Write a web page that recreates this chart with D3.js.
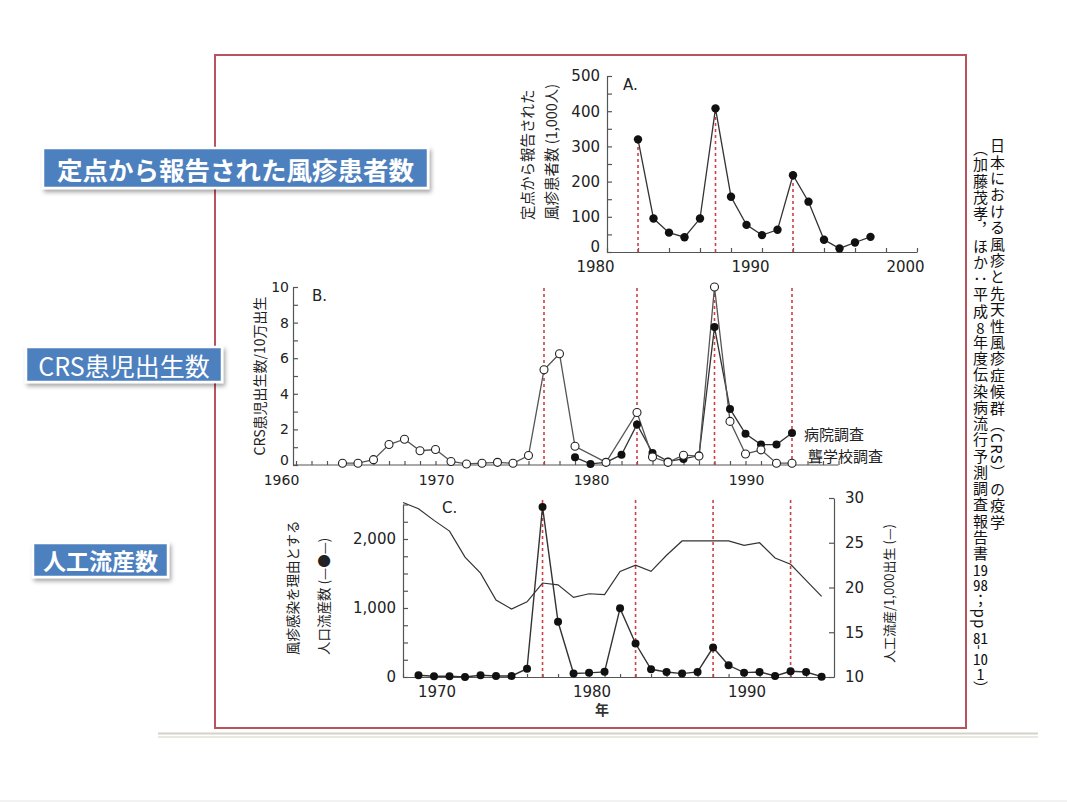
<!DOCTYPE html>
<html><head><meta charset="utf-8">
<script src="https://cdn.jsdelivr.net/npm/d3@7"></script>
<style>
body{margin:0;background:#fff;position:relative;width:1067px;height:803px;overflow:hidden}
svg{display:block;position:absolute;left:0;top:0}
.vcol{position:absolute;writing-mode:vertical-rl;text-orientation:mixed;white-space:nowrap;
  font-family:"Noto Sans CJK JP","Noto Sans",sans-serif;font-size:15px;line-height:18px;color:#111}
.tcu{text-combine-upright:all}
</style>
</head><body>
<svg id="c" width="1067" height="803"></svg>
<script>
// ---------- data ----------
// Panel A: sentinel-reported rubella cases (1,000 persons)
const yearsA = [1982,1983,1984,1985,1986,1987,1988,1989,1990,1991,1992,1993,1994,1995,1996,1997];
const casesA = [320,95,55,42,95,408,157,77,48,63,218,143,35,10,27,43];
// epidemic years (red dotted lines)
const epidemicYears = [1976,1982,1987,1992];
// Panel B: CRS births per 100,000 births
const yearsSchool = [1963,1964,1965,1966,1967,1968,1969,1970,1971,1972,1973,1974,1975,1976,1977,1978,1980,1982,1983,1984,1985,1986,1987,1988,1989,1990,1991,1992];
const crsSchool   = [0.1,0.1,0.3,1.15,1.45,0.8,0.87,0.2,0.06,0.1,0.15,0.1,0.53,5.35,6.25,1.05,0.15,2.95,0.45,0.15,0.55,0.5,10,2.45,0.62,0.85,0.1,0.1];
const yearsHosp = [1978,1979,1980,1981,1982,1983,1984,1985,1986,1987,1988,1989,1990,1991,1992];
const crsHosp   = [0.43,0.06,0.15,0.58,2.28,0.68,0.2,0.34,0.53,7.75,3.15,1.75,1.15,1.15,1.8];
const seriesLabelsB = ["病院調査","聾学校調査"];
// Panel C: induced abortions due to rubella infection (count) and abortion rate per 1,000 births
const yearsAbort = [1968,1969,1970,1971,1972,1973,1974,1975,1976,1977,1978,1979,1980,1981,1982,1983,1984,1985,1986,1987,1988,1989,1990,1991,1992,1993,1994];
const abortions  = [25,10,10,0,25,15,15,120,2465,800,50,60,75,995,485,112,73,49,73,427,170,63,73,15,83,73,5];
const yearsRate = [1967,1968,1969,1970,1971,1972,1973,1974,1975,1976,1977,1978,1979,1980,1981,1982,1983,1984,1985,1986,1987,1988,1989,1990,1991,1992,1993,1994];
const abortionRate = [29.5,28.8,27.5,26.3,23.4,21.6,18.6,17.6,18.4,20.5,20.3,18.9,19.3,19.2,21.8,22.5,21.8,23.6,25.2,25.2,25.2,25.2,24.7,25.0,23.3,22.6,20.8,19.0];
// tick labels
const ticksA_y = [0,100,200,300,400,500];
const ticksA_x = [1980,1990,2000];
const ticksB_y = [0,2,4,6,8,10];
const ticksB_x = [1960,1970,1980,1990];
const ticksC_yL = [0,1000,2000];
const ticksC_yR = [10,15,20,25,30];
const ticksC_x = [1970,1980,1990];
// side labels
const boxLabels = ["定点から報告された風疹患者数","CRS患児出生数","人工流産数"];
const sourceTitle = "日本における風疹と先天性風疹症候群（CRS）の疫学";
const sourceRef = ["（加藤茂孝，ほか：平成", "8", "年度伝染病流行予測調査報告書", "19", "98", "；pp", "81", "-", "10", "1", "）"];

// ---------- drawing ----------
const svg = d3.select("#c");
const CJK = '"Noto Sans CJK JP","Noto Sans",sans-serif';
const NUM = '"DejaVu Sans",sans-serif';
const RED = "#cf3f45";
const AX = "#555";

const defs = svg.append("defs");
const f = defs.append("filter").attr("id","sh").attr("x","-10%").attr("y","-30%").attr("width","125%").attr("height","180%");
f.append("feDropShadow").attr("dx",2).attr("dy",3).attr("stdDeviation",2.2).attr("flood-color","#000").attr("flood-opacity",0.35);

// frame
svg.append("rect").attr("x",215).attr("y",55).attr("width",751).attr("height",673)
  .attr("fill","none").attr("stroke","#b9545e").attr("stroke-width",2);
svg.append("line").attr("x1",158).attr("x2",1038).attr("y1",733.5).attr("y2",733.5).attr("stroke","#d5d2c6").attr("stroke-width",2);
svg.append("line").attr("x1",158).attr("x2",1038).attr("y1",737).attr("y2",737).attr("stroke","#e3e1da").attr("stroke-width",1.5);
svg.append("line").attr("x1",0).attr("x2",1067).attr("y1",801).attr("y2",801).attr("stroke","#e4e4e4").attr("stroke-width",1);

// blue labels
const boxes = [
  {x:43,y:148,w:385,h:40,fs:25.5,fw:"bold",ty:168},
  {x:26,y:347,w:196,h:35,fs:25,fw:"normal",ty:364.5},
  {x:33,y:543,w:135,h:34,fs:23,fw:"bold",ty:560}
];
boxes.forEach((b,i)=>{
  svg.append("rect").attr("x",b.x).attr("y",b.y).attr("width",b.w).attr("height",b.h)
    .attr("fill","#4d80be").attr("stroke","#fff").attr("stroke-width",2.5).attr("filter","url(#sh)");
  svg.append("text").attr("x",b.x+b.w/2).attr("y",b.ty).attr("text-anchor","middle")
    .attr("dominant-baseline","central").style("font-family",CJK).style("font-size",b.fs+"px")
    .style("font-weight",b.fw).attr("fill","#fff").text(boxLabels[i]);
});

// vertical source text (HTML, vertical writing)
const body = d3.select("body");
body.append("div").attr("class","vcol").style("left","988px").style("top","138px")
  .style("letter-spacing","1.4px").text(sourceTitle);
const ref = body.append("div").attr("class","vcol").style("left","971px").style("top","141px")
  .style("letter-spacing","1.25px");
sourceRef.forEach(s=>{
  const sp = ref.append("span").text(s);
  if(/^[0-9]+$/.test(s)) sp.attr("class","tcu");
});

function styleAxis(g, fs){
  g.selectAll("path,line").attr("stroke",AX).attr("stroke-width",1.2);
  g.selectAll("text").attr("fill","#222").style("font-family",NUM).style("font-size",fs+"px");
}
const fmtComma = d3.format(",");

// ===== Panel A =====
const xA = d3.scaleLinear().domain([1980,2000]).range([607,917]);
const yA = d3.scaleLinear().domain([0,500]).range([252,76]);
const gAx = svg.append("g").attr("transform",`translate(0,${yA(0)})`)
  .call(d3.axisBottom(xA).tickValues(d3.range(1980,2001,2)).tickSize(-4).tickSizeOuter(0).tickPadding(9)
    .tickFormat(d=>ticksA_x.includes(d)?d:""));
styleAxis(gAx,15); gAx.selectAll("text").attr("dx",-12);
const gAy = svg.append("g").attr("transform",`translate(${xA(1980)},0)`)
  .call(d3.axisLeft(yA).tickValues(d3.range(0,501,50)).tickSize(-5).tickSizeOuter(0).tickPadding(7)
    .tickFormat(d=>ticksA_y.includes(d)?d:""));
styleAxis(gAy,15);
gAy.selectAll(".tick text").filter(d=>d===0).attr("dy","-0.05em");
epidemicYears.filter(y=>yearsA.includes(y)).forEach(y=>{
  const v = casesA[yearsA.indexOf(y)];
  svg.append("line").attr("x1",xA(y)).attr("x2",xA(y)).attr("y1",yA(0)).attr("y2",yA(v))
    .attr("stroke",RED).attr("stroke-width",1.6).attr("stroke-dasharray","3,3");
});
const dA = yearsA.map((y,i)=>[y,casesA[i]]);
svg.append("path").datum(dA).attr("fill","none").attr("stroke","#333").attr("stroke-width",1.3)
  .attr("d",d3.line().x(d=>xA(d[0])).y(d=>yA(d[1])));
svg.selectAll(".ptA").data(dA).join("circle").attr("cx",d=>xA(d[0])).attr("cy",d=>yA(d[1])).attr("r",4.2).attr("fill","#111");
svg.append("text").attr("x",623).attr("y",90).style("font-family",NUM).style("font-size","15px").attr("fill","#222").text("A.");
[["定点から報告された",526],["風疹患者数 (1,000人)",550]].forEach(([t,x])=>{
  svg.append("text").attr("transform",`translate(${x},220) rotate(-90)`).attr("dominant-baseline","central")
    .style("font-family",CJK).style("font-size","14.5px").attr("fill","#222").text(t);
});

// ===== Panel B =====
const xB = d3.scaleLinear().domain([1960,1995]).range([296,838.5]);
const yB = d3.scaleLinear().domain([0,10]).range([465,287]);
const gBx = svg.append("g").attr("transform",`translate(0,${yB(0)})`)
  .call(d3.axisBottom(xB).tickValues(d3.range(1960,1996,1)).tickSize(-4).tickSizeOuter(0).tickPadding(10)
    .tickFormat(d=>ticksB_x.includes(d)?d:""));
styleAxis(gBx,14); gBx.selectAll("text").attr("dx",-15);
gBx.select(".domain").attr("d",`M293,0H838.5`);
const gBy = svg.append("g").attr("transform",`translate(293,0)`)
  .call(d3.axisLeft(yB).tickValues(d3.range(0,11,1)).tickSize(-5).tickSizeOuter(0).tickPadding(4)
    .tickFormat(d=>ticksB_y.includes(d)?d:""));
styleAxis(gBy,14);
gBy.selectAll(".tick text").filter(d=>d===0).attr("dy","-0.05em");
epidemicYears.forEach(y=>{
  svg.append("line").attr("x1",xB(y)).attr("x2",xB(y)).attr("y1",yB(0)).attr("y2",yB(10))
    .attr("stroke",RED).attr("stroke-width",1.6).attr("stroke-dasharray","3,3");
});
const lineB = d3.line().x(d=>xB(d[0])).y(d=>yB(d[1]));
const dHosp = yearsHosp.map((y,i)=>[y,crsHosp[i]]);
const dSchool = yearsSchool.map((y,i)=>[y,crsSchool[i]]);
svg.append("path").datum(dHosp).attr("fill","none").attr("stroke","#333").attr("stroke-width",1.3).attr("d",lineB);
svg.append("path").datum(dSchool).attr("fill","none").attr("stroke","#555").attr("stroke-width",1.3).attr("d",lineB);
svg.selectAll(".ptH").data(dHosp).join("circle").attr("cx",d=>xB(d[0])).attr("cy",d=>yB(d[1])).attr("r",4).attr("fill","#111");
svg.selectAll(".ptS").data(dSchool).join("circle").attr("cx",d=>xB(d[0])).attr("cy",d=>yB(d[1])).attr("r",4)
  .attr("fill","#fff").attr("stroke","#222").attr("stroke-width",1.1);
svg.append("text").attr("x",804).attr("y",433).attr("dominant-baseline","central").style("font-family",CJK).style("font-size","15px").attr("fill","#222").text(seriesLabelsB[0]);
svg.append("text").attr("x",808).attr("y",455).attr("dominant-baseline","central").style("font-family",CJK).style("font-size","15px").attr("fill","#222").text(seriesLabelsB[1]);
svg.append("text").attr("x",312).attr("y",301).style("font-family",NUM).style("font-size","15px").attr("fill","#222").text("B.");
svg.append("text").attr("transform",`translate(259,376) rotate(-90)`).attr("text-anchor","middle").attr("dominant-baseline","central")
  .style("font-family",CJK).style("font-size","14px").attr("fill","#222").text("CRS患児出生数/10万出生");

// ===== Panel C =====
const xC = d3.scaleLinear().domain([1967,1994.8]).range([403,834]);
const yCL = d3.scaleLinear().domain([0,2500]).range([677,504.5]);
const yCR = d3.scaleLinear().domain([10,30]).range([677,498]);
const gCx = svg.append("g").attr("transform",`translate(0,677)`)
  .call(d3.axisBottom(xC).tickValues(d3.range(1967,1995,1)).tickSize(-3).tickSizeOuter(0).tickPadding(9)
    .tickFormat(d=>ticksC_x.includes(d)?d:""));
styleAxis(gCx,15); gCx.selectAll("text").attr("dx",-13);
const gCl = svg.append("g").attr("transform",`translate(403,0)`)
  .call(d3.axisLeft(yCL).tickValues(d3.range(0,2501,250)).tickSize(-5).tickSizeOuter(0).tickPadding(7)
    .tickFormat(d=>ticksC_yL.includes(d)?fmtComma(d):""));
styleAxis(gCl,15);
const gCr = svg.append("g").attr("transform",`translate(834,0)`)
  .call(d3.axisRight(yCR).tickValues(ticksC_yR).tickSize(-5).tickSizeOuter(0).tickPadding(11));
styleAxis(gCr,15);
epidemicYears.forEach(y=>{
  svg.append("line").attr("x1",xC(y)).attr("x2",xC(y)).attr("y1",677).attr("y2",497)
    .attr("stroke",RED).attr("stroke-width",1.6).attr("stroke-dasharray","3,3");
});
const dRate = yearsRate.map((y,i)=>[y,abortionRate[i]]);
svg.append("path").datum(dRate).attr("fill","none").attr("stroke","#333").attr("stroke-width",1.2)
  .attr("d",d3.line().x(d=>xC(d[0])).y(d=>yCR(d[1])));
const dAb = yearsAbort.map((y,i)=>[y,abortions[i]]);
svg.append("path").datum(dAb).attr("fill","none").attr("stroke","#333").attr("stroke-width",1.4)
  .attr("d",d3.line().x(d=>xC(d[0])).y(d=>yCL(d[1])));
svg.selectAll(".ptC").data(dAb).join("circle").attr("cx",d=>xC(d[0])).attr("cy",d=>yCL(d[1])).attr("r",4).attr("fill","#111");
svg.append("text").attr("x",442).attr("y",513).style("font-family",NUM).style("font-size","15px").attr("fill","#222").text("C.");
[["風疹感染を理由とする",292],["人口流産数 (—●—)",323]].forEach(([t,x])=>{
  svg.append("text").attr("transform",`translate(${x},655) rotate(-90)`).attr("dominant-baseline","central")
    .style("font-family",CJK).style("font-size","13.5px").attr("fill","#222").text(t);
});
svg.append("text").attr("transform",`translate(888,663) rotate(-90)`).attr("dominant-baseline","central")
  .style("font-family",CJK).style("font-size","13px").attr("fill","#222").text("人工流産/1,000出生 (—)");
svg.append("text").attr("x",602).attr("y",709).attr("text-anchor","middle").attr("dominant-baseline","central")
  .style("font-family",CJK).style("font-size","14px").style("font-weight","bold").attr("fill","#333").text("年");
</script>
</body></html>
